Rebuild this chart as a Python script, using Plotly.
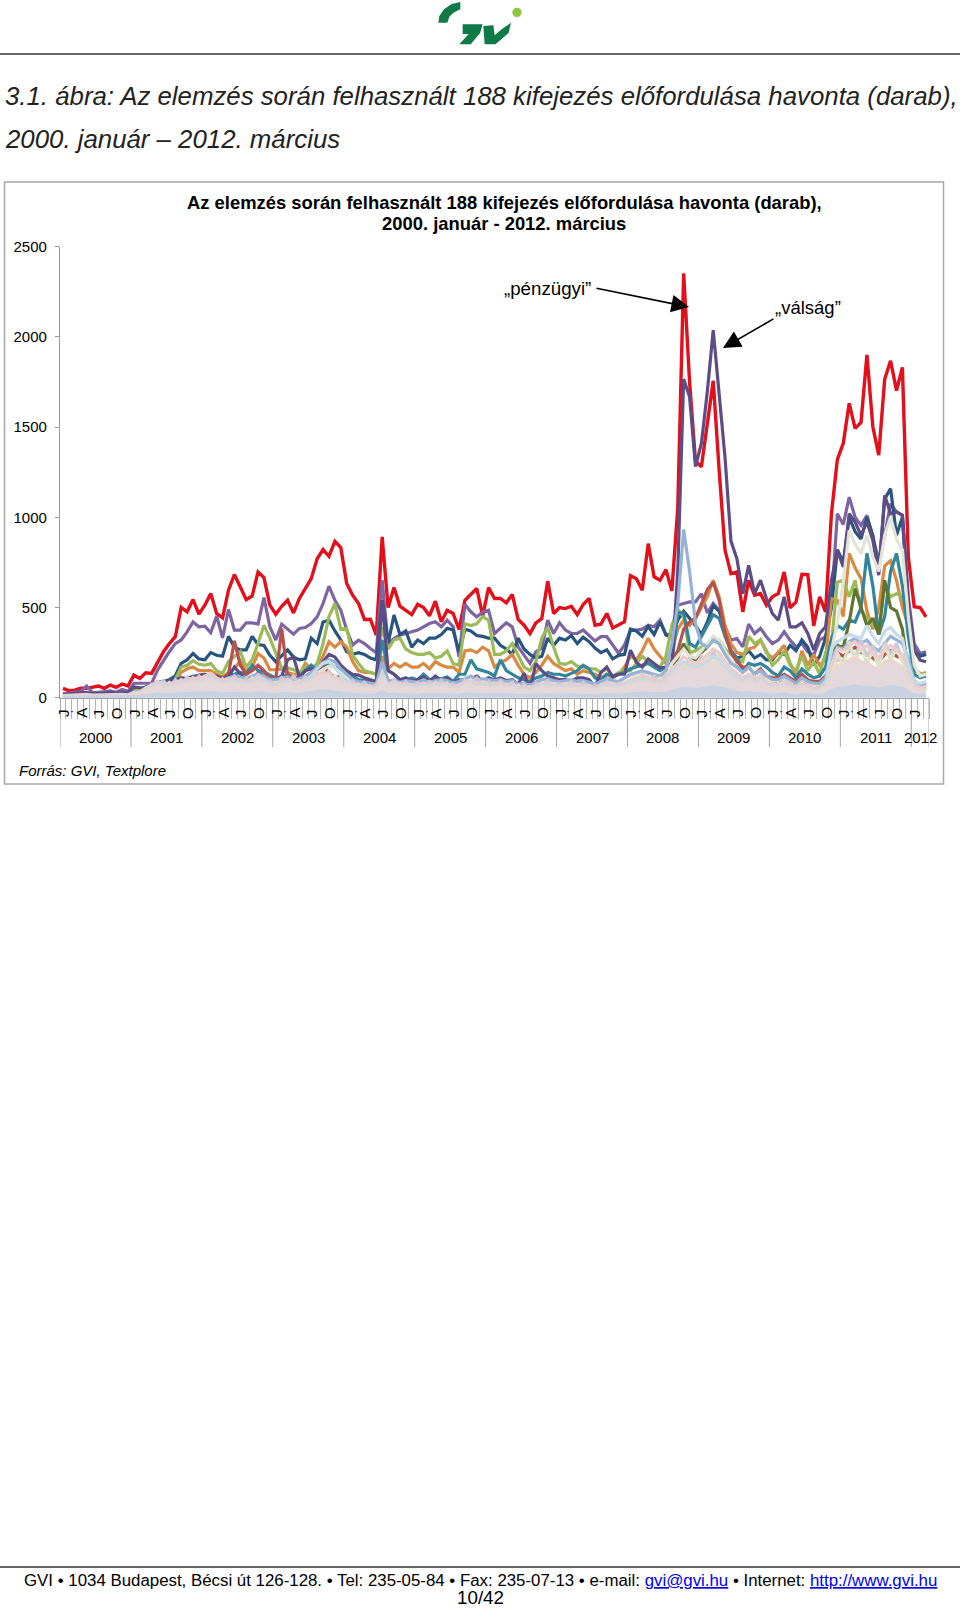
import plotly.graph_objects as go

W, H = 960, 1610
YEARS = ["2000","2001","2002","2003","2004","2005","2006","2007","2008","2009","2010","2011","2012"]
MONTH_LABELS = ["J", "A", "J", "O"]

RED = [52,39,42,52,52,57,65,52,70,57,76,65,
125,107,138,135,200,255,300,338,500,476,544,463,
513,577,467,443,596,683,614,544,563,697,666,513,
463,507,540,470,550,605,660,770,821,784,867,832,
633,568,522,434,435,347,891,500,611,507,482,461,
518,500,454,535,421,485,467,378,540,574,605,454,
611,550,550,526,572,434,402,356,415,439,646,467,
500,494,507,461,517,550,402,408,467,387,402,421,
677,660,596,854,670,651,710,592,1050,2352,1750,1310,
1280,1520,1757,1262,817,688,697,476,651,568,577,513,
559,577,697,498,531,684,682,398,559,476,1020,1321,
1410,1632,1493,1526,1900,1502,1345,1765,1868,1702,1831,780,
504,500,448]
PURPLE = [20,25,30,35,65,28,30,32,38,30,45,35,
80,80,80,80,153,208,255,300,320,365,420,393,
397,360,452,332,489,375,375,415,415,408,555,393,
320,408,378,352,384,389,411,448,522,618,540,485,
375,292,319,300,273,249,651,300,328,347,356,365,
375,393,411,421,393,430,393,227,517,476,448,476,
485,356,384,415,393,282,236,190,255,273,430,356,
415,375,356,356,375,343,315,338,338,292,245,292,
375,375,380,402,393,430,347,356,513,522,531,531,
577,470,522,485,393,319,328,282,408,356,384,338,
300,319,365,319,282,300,255,236,319,338,522,1020,
960,1112,1000,955,1011,890,762,900,1075,1030,1011,560,
300,245,255]
DARK_PURPLE = [18,20,22,25,30,22,25,22,28,25,30,25,
60,55,50,70,90,75,95,100,110,105,115,125,
130,125,118,105,115,170,130,95,110,135,125,100,
95,120,210,225,115,150,160,140,200,240,225,180,
150,130,125,110,100,90,540,150,130,100,110,90,
100,115,90,120,95,110,75,100,90,105,120,90,
110,100,110,95,100,75,135,45,190,150,120,110,
100,100,90,110,110,100,60,140,170,115,130,130,
264,195,170,215,190,165,170,180,700,1767,1668,1281,
1410,1696,2038,1668,1330,868,771,577,734,577,651,550,
467,430,559,393,393,415,356,264,356,393,651,817,
725,1020,974,900,974,873,679,1122,1020,1030,1011,522,
264,208,199]
NAVY = [15,18,20,22,24,20,22,20,24,22,28,25,
55,50,60,70,85,90,100,120,190,210,245,215,
210,250,235,230,340,280,265,265,340,295,290,235,
200,230,265,225,210,215,330,300,420,430,370,320,
255,240,250,240,220,210,540,300,458,350,370,280,
320,300,330,330,350,385,375,255,380,370,345,340,
330,330,290,270,240,330,270,240,220,230,330,290,
330,320,345,300,335,310,275,250,265,215,235,240,
380,370,340,395,350,420,350,330,430,480,440,400,
350,420,510,480,380,260,220,230,260,220,240,210,
210,250,240,290,260,320,280,180,230,330,500,820,
750,1000,920,880,1000,900,700,1100,1159,900,1000,500,
260,230,240]
GREEN = [12,14,15,16,18,15,16,15,18,16,20,18,
40,40,55,65,80,90,70,100,170,180,205,185,
180,190,150,135,200,230,255,170,210,300,402,330,
250,165,165,155,135,175,160,190,300,450,522,380,
385,235,190,150,140,130,393,270,320,330,270,250,
240,240,250,220,230,260,190,180,410,400,410,450,
430,240,240,260,300,230,170,150,200,330,390,280,
190,185,200,175,170,160,160,140,160,120,140,150,
150,190,230,200,180,170,230,400,490,450,250,260,
280,300,330,320,270,240,210,200,340,300,320,260,
180,210,260,180,150,230,150,200,130,250,300,640,
651,560,651,485,440,400,375,614,560,577,560,450,
150,135,130]
ORANGE = [10,11,12,14,15,12,13,12,15,13,16,14,
35,38,45,55,65,75,85,95,140,160,170,150,
150,150,130,115,140,160,205,150,170,245,220,155,
155,160,140,130,130,190,160,165,230,310,280,310,
280,200,150,140,140,130,230,160,190,170,190,170,
170,190,160,200,180,170,170,140,260,265,250,280,
260,170,195,210,240,180,130,110,140,180,230,190,
170,150,160,130,150,140,130,110,130,110,130,170,
230,210,260,330,270,230,190,260,380,430,400,440,
500,560,651,560,400,300,250,240,270,280,320,250,
220,250,290,190,130,260,180,240,180,210,550,540,
450,800,720,660,480,380,500,730,760,650,500,400,
170,130,140]
TEAL = [10,11,12,12,14,11,12,11,13,12,15,13,
30,30,40,45,55,65,70,80,110,105,120,115,
110,105,110,100,120,130,140,130,180,150,145,125,
110,115,130,105,110,150,180,150,170,190,170,160,
140,120,100,95,90,85,320,150,130,100,95,110,
100,130,100,110,105,115,90,130,130,210,160,150,
140,120,210,150,130,110,100,90,110,120,140,130,
130,120,135,150,180,160,110,100,130,120,130,140,
160,170,180,190,170,150,170,190,470,470,300,280,
340,400,460,440,340,260,220,150,190,180,190,170,
140,120,170,150,110,160,130,110,120,170,330,400,
380,430,420,500,800,620,350,450,700,800,620,340,
130,110,120]
BRICK = [8,9,10,10,12,9,10,9,11,10,12,11,
25,25,30,35,40,50,50,60,90,100,105,110,
110,100,120,110,130,315,180,130,150,180,150,110,
100,384,120,100,120,100,120,150,180,140,110,120,
100,90,85,80,85,80,200,90,95,85,100,95,
90,100,85,90,95,85,80,95,100,110,95,100,
100,95,90,85,90,75,80,70,85,100,90,95,
85,90,95,85,90,85,70,85,100,90,85,100,
110,120,130,120,110,105,130,200,260,380,420,440,
520,600,640,540,360,250,200,170,170,130,160,120,
110,110,130,110,90,130,100,90,90,120,200,250,
230,260,280,250,240,220,200,240,260,230,220,190,
90,70,80]
OLIVE = [6,7,8,8,9,7,8,7,9,8,10,9,
20,20,25,30,35,45,50,60,75,85,90,95,
90,85,95,90,100,110,100,95,105,120,110,90,
85,100,110,90,95,105,115,125,140,130,110,105,
90,80,75,70,70,65,160,80,85,75,85,80,
80,90,75,85,85,80,70,85,90,100,85,90,
90,85,80,75,80,65,70,60,75,90,85,85,
75,80,85,75,80,75,60,75,90,80,75,90,
100,110,115,105,100,95,115,170,220,300,230,210,
250,280,320,300,250,200,170,140,170,130,150,110,
90,90,110,90,70,100,80,70,70,100,240,290,
280,420,605,500,400,440,350,651,500,480,380,150,
70,50,60]
STEEL = [7,8,8,9,10,8,9,8,10,9,11,10,
25,25,30,35,40,45,55,65,80,90,95,100,
95,90,100,95,110,120,115,105,120,130,120,100,
100,110,115,100,105,120,140,170,195,210,200,160,
130,100,90,85,80,75,200,90,100,85,95,90,
85,100,85,95,100,95,80,90,105,120,100,105,
100,95,100,90,95,75,80,70,85,100,105,95,
90,95,100,90,95,85,75,90,105,95,90,110,
130,140,150,140,130,120,150,300,520,932,700,410,
300,280,320,300,240,190,170,140,170,130,150,120,
100,100,120,100,80,110,90,80,80,110,220,280,
270,310,330,300,320,280,260,300,340,320,300,220,
90,70,80]
BEIGE = [6,7,7,8,9,7,8,7,9,8,9,8,
22,22,28,32,38,42,48,55,70,78,85,90,
85,80,90,85,95,105,100,95,105,115,110,90,
90,100,105,90,95,105,120,140,160,175,165,135,
110,90,80,75,70,65,160,80,90,75,85,80,
75,90,75,85,90,85,70,80,95,105,90,95,
90,85,90,80,85,65,70,60,75,90,95,85,
80,85,90,80,85,75,65,80,95,85,80,95,
110,120,130,120,110,105,130,190,230,270,230,220,
260,300,340,320,260,200,170,140,170,130,150,110,
90,95,110,90,75,100,85,70,75,100,260,420,
640,928,850,800,900,780,700,900,1000,880,820,450,
180,120,130]
LILAC = [9,8,11,9,12,8,10,8,11,9,12,10,
20,30,40,75,60,95,55,100,70,115,80,120,
85,130,70,105,65,120,75,110,70,125,80,95,
60,110,75,120,65,115,85,135,95,150,80,115,
70,95,55,85,50,75,125,60,100,65,90,60,
85,55,90,60,95,50,80,45,100,70,110,60,
90,60,95,55,85,45,75,40,80,60,95,55,
80,50,90,55,85,45,70,40,90,55,80,50,
95,70,125,85,120,80,130,110,190,160,220,150,
230,190,260,180,170,110,130,80,120,80,110,60,
75,50,95,50,65,45,70,40,60,50,170,210,
200,280,220,320,230,290,200,310,240,300,210,120,
60,45,65]
MINT = [7,9,8,11,9,10,8,10,9,11,9,11,
25,20,50,45,80,60,85,65,100,75,110,80,
115,90,105,70,95,75,100,65,110,80,100,65,
85,70,100,65,95,80,115,95,145,105,120,85,
85,60,75,50,65,45,95,75,70,80,60,70,
50,75,55,85,50,80,40,70,60,95,55,85,
60,80,55,75,45,70,35,60,50,80,55,75,
50,75,50,70,45,65,35,70,50,75,45,70,
75,100,80,115,75,110,95,170,130,200,140,190,
160,240,180,250,130,150,85,110,80,115,70,90,
45,80,50,75,40,70,35,60,40,70,120,250,
170,310,200,280,190,260,170,290,210,270,200,130,
40,55,40]
PINK = [12,14,15,16,18,15,16,14,17,15,18,16,
30,32,55,70,90,80,70,85,95,100,110,105,
120,135,110,95,105,110,90,85,100,120,105,80,
75,95,100,85,80,100,110,125,140,130,105,100,
90,75,70,65,60,55,140,70,90,70,75,70,
65,80,70,80,75,70,60,65,85,90,75,80,
75,70,80,70,75,55,60,50,65,75,80,70,
65,70,75,65,70,60,50,65,80,70,65,80,
95,105,120,110,95,90,110,160,190,230,200,190,
210,240,270,250,200,160,135,110,130,105,120,85,
65,75,90,70,55,80,65,50,55,80,180,270,
260,290,310,270,290,250,220,270,290,260,240,150,
70,55,60]
SKY = [10,11,12,12,14,11,12,11,13,12,14,12,
25,28,45,60,75,70,60,70,85,90,95,90,
100,110,95,80,90,95,80,75,85,105,95,70,
65,80,90,75,70,90,120,160,190,200,170,120,
80,65,60,55,50,45,130,60,80,60,65,60,
55,70,60,70,65,60,50,55,75,80,65,70,
65,60,70,60,65,45,50,40,55,65,70,60,
55,60,65,55,60,50,40,55,70,60,55,70,
85,95,100,90,80,75,90,140,170,200,180,170,
180,200,230,210,170,135,115,90,110,85,100,70,
55,60,75,55,45,65,50,40,45,65,280,310,
330,350,340,330,400,340,300,370,390,350,330,180,
85,80,90]
PEACH = [8,9,10,10,11,9,10,9,11,10,12,10,
20,22,35,45,60,55,50,60,70,75,85,80,
85,95,80,70,75,80,70,65,75,90,80,60,
55,70,75,65,60,75,90,105,120,110,90,80,
70,55,50,45,45,40,105,50,65,50,55,50,
45,55,50,55,55,50,40,45,60,65,55,55,
55,50,55,50,55,35,40,35,45,55,55,50,
45,50,55,45,50,45,35,45,55,50,45,55,
70,75,85,80,70,65,80,120,150,175,165,160,
190,210,220,190,150,115,95,75,95,70,85,55,
45,50,60,45,35,55,40,35,35,55,130,180,
190,210,230,200,190,170,160,200,210,190,170,100,
50,40,45]
BAND = [9,10,11,11,13,10,11,10,12,11,13,11,
22,25,40,52,66,60,52,62,75,80,88,82,
90,100,85,72,80,85,72,68,78,92,82,62,
58,72,80,68,64,82,95,110,125,118,96,84,
72,58,54,50,46,42,110,54,70,54,58,54,
48,60,54,60,58,54,44,48,66,70,58,60,
58,54,60,54,58,40,44,36,50,58,60,54,
48,54,58,50,54,46,38,50,60,54,50,60,
74,82,90,82,72,68,82,124,150,170,160,150,
165,185,200,180,150,115,98,78,98,74,88,60,
48,54,66,50,40,58,46,36,40,58,125,170,
180,200,215,190,195,170,155,190,205,185,170,100,
52,44,50]
BASE = [3,3,4,4,4,3,4,3,4,4,4,4,
7,8,12,16,20,18,16,19,23,24,26,25,
27,30,26,22,24,26,22,20,23,28,25,19,
17,22,24,20,19,25,29,33,38,35,29,25,
22,17,16,15,14,13,33,16,21,16,17,16,
14,18,16,18,17,16,13,14,20,21,17,18,
17,16,18,16,17,12,13,11,15,17,18,16,
14,16,17,15,16,14,11,15,18,16,15,18,
22,25,27,25,22,20,25,37,45,51,48,45,
50,56,60,54,45,35,29,23,29,22,26,18,
14,16,20,15,12,17,14,11,12,17,38,51,
54,60,65,57,59,51,47,57,62,56,51,30,
16,13,15]

N = len(RED)
xs = [i + 0.5 for i in range(N)]

SERIES = [
    (RED, "#E3101C", 3.4), (PURPLE, "#7F64A4", 3.2), (NAVY, "#27557F", 3.2),
    (ORANGE, "#D98A40", 3.2), (GREEN, "#9BBB59", 3.2), (TEAL, "#31859C", 3.2),
    (BRICK, "#B5514E", 3.2), (OLIVE, "#5F7530", 3.2), (DARK_PURPLE, "#5D4C85", 3.2),
    (BEIGE, "#E4E4D6", 3.2), (STEEL, "#95B3D7", 3.2),
]
PALE = [(LILAC, "#CFC6DC"), (MINT, "#D9E5C4"), (PEACH, "#F5D9C2"), (PINK, "#EBCBCB"), (SKY, "#C5DBE8")]

def px(x): return x / W
def py(y): return 1 - y / H

fig = go.Figure()
for vals, col, w in SERIES:
    fig.add_trace(go.Scatter(x=xs, y=vals, mode="lines", line=dict(color=col, width=w), showlegend=False))
for vals, col in PALE:
    fig.add_trace(go.Scatter(x=xs, y=vals, mode="lines", line=dict(color=col, width=3.2), showlegend=False))
fig.add_trace(go.Scatter(x=xs, y=BAND, mode="lines", line=dict(color="#E8D6D4", width=3),
                         fill="tozeroy", fillcolor="#E3D9DC", showlegend=False))
fig.add_trace(go.Scatter(x=xs, y=BASE, mode="lines", line=dict(color="#C8D2E2", width=3),
                         fill="tozeroy", fillcolor="#C8D2E2", showlegend=False))

FONT = "Liberation Sans"
ann = []
def text(x, y, s, size, anchor="center", color="#000", angle=0, xref="paper"):
    ann.append(dict(x=px(x) if xref == "paper" else x, y=py(y), xref=xref, yref="paper", text=s, showarrow=False,
                    xanchor=anchor, yanchor="middle", textangle=angle,
                    font=dict(family=FONT, size=size, color=color)))

text(3, 96, "<i>3.1. ábra: Az elemzés során felhasznált 188 kifejezés előfordulása havonta (darab),</i>", 25.8, "left", "#222")
text(3, 139, "<i>2000. január – 2012. március</i>", 25.8, "left", "#222")
text(504, 203, "<b>Az elemzés során felhasznált 188 kifejezés előfordulása havonta (darab),</b>", 18.4)
text(504, 224, "<b>2000. január - 2012. március</b>", 18.4)
text(547, 288, "„pénzügyi”", 18.7)
text(808, 307, "„válság”", 18.5)
text(17, 770, "<i>Forrás: GVI, Textplore</i>", 15, "left")
text(480, 1580, 'GVI • 1034 Budapest, Bécsi út 126-128. • Tel: 235-05-84 • Fax: 235-07-13 • e-mail: '
     '<span style="color:#0000EE;text-decoration:underline">gvi@gvi.hu</span> • Internet: '
     '<span style="color:#0000EE;text-decoration:underline">http://www.gvi.hu</span>', 16.85)
text(480, 1597.5, "10/42", 18.8)

for y_i, yr in enumerate(YEARS):
    start = y_i * 12
    count = min(12, N - start)
    text(start + count / 2, 738, yr, 15, xref="x")
    for m_i, lab in enumerate(MONTH_LABELS):
        pos = start + m_i * 3
        if pos < N:
            text(pos + 0.5, 713, lab, 15, angle=-90, xref="x")
    if y_i < 12:
        text(start + 2, 711, "·", 12, xref="x")

for (x0, y0, x1, y1) in [(595, 288, 689, 307), (775, 318, 723, 348)]:
    ann.append(dict(x=px(x1), y=py(y1), xref="paper", yref="paper", ax=x0 - x1, ay=y0 - y1,
                    axref="pixel", ayref="pixel", text="", showarrow=True, arrowhead=2,
                    arrowsize=2.2, arrowwidth=1.6, arrowcolor="#000"))

def poly(points, color):
    d = "M " + " L ".join(f"{px(380 + a / 3):.5f},{py(b / 3):.5f}" for a, b in points) + " Z"
    return dict(type="path", path=d, xref="paper", yref="paper", fillcolor=color, line=dict(width=0), layer="above")

G = "#0E7A45"
shapes = [
    dict(type="rect", x0=px(4.5), x1=px(943.5), y0=py(182), y1=py(784), xref="paper", yref="paper",
         line=dict(color="#A8A8A8", width=1.5), layer="below"),
    dict(type="line", x0=0, x1=1, y0=py(54), y1=py(54), xref="paper", yref="paper", line=dict(color="#333", width=1.5)),
    dict(type="line", x0=0, x1=1, y0=py(1567), y1=py(1567), xref="paper", yref="paper", line=dict(color="#333", width=1.5)),
    poly([(241, 6), (215, 12), (192, 28), (178, 48), (175, 68), (202, 68), (208, 50), (220, 38), (241, 28)], G),
    poly([(248, 73), (308, 73), (300, 100), (272, 133), (238, 133), (266, 102), (248, 102)], G),
    poly([(310, 78), (340, 76), (344, 106), (365, 88), (393, 68), (386, 98), (366, 116), (346, 133), (314, 133)], G),
    dict(type="circle", x0=px(380 + 397 / 3), x1=px(380 + 425 / 3), y0=py(51 / 3), y1=py(23 / 3),
         xref="paper", yref="paper", fillcolor="#8DC63F", line=dict(width=0)),
]
for y_i in list(range(0, 13)) + [147 / 12]:
    shapes.append(dict(type="line", x0=y_i * 12, x1=y_i * 12, y0=py(697.7), y1=py(747), xref="x", yref="paper",
                       line=dict(color="#A0A0A0", width=1)))

fig.update_layout(
    width=W, height=H, margin=dict(l=0, r=0, t=0, b=0, autoexpand=False), paper_bgcolor="white", plot_bgcolor="white",
    font=dict(family=FONT, size=15, color="#000"), annotations=ann, shapes=shapes,
    xaxis=dict(domain=[px(60), px(929)], range=[0, N], tickvals=list(range(N + 1)),
               ticktext=[""] * (N + 1), ticks="outside", ticklen=20, tickcolor="#B4B4B4", tickwidth=1,
               showgrid=False, zeroline=False, showline=True, linecolor="#A0A0A0", anchor="y", automargin=False),
    yaxis=dict(domain=[py(697.7), py(246.7)], range=[0, 2500], tickvals=[0, 500, 1000, 1500, 2000, 2500],
               ticks="outside", ticklen=4, tickcolor="#999", showgrid=False, zeroline=False,
               showline=True, linecolor="#999", linewidth=1.2, tickfont=dict(size=15, family=FONT),
               anchor="x", ticklabelstandoff=5, automargin=False),
)
fig.write_html("out.html", config={"displayModeBar": False}, post_script="document.body.style.margin='0';")
